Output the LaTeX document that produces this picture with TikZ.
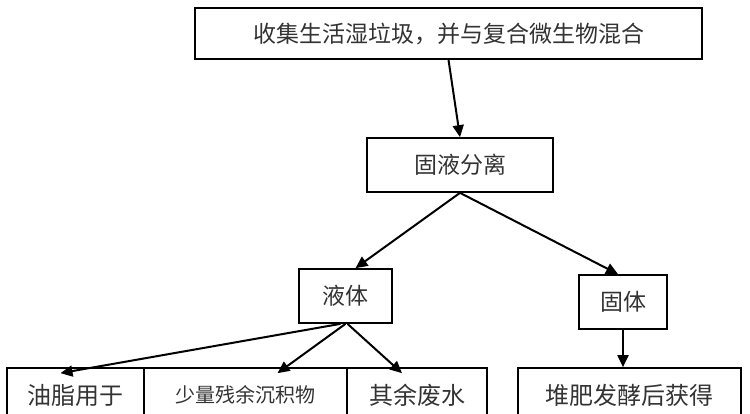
\documentclass[tikz,border=0pt]{standalone}
\usepackage{fontspec}
\setmainfont{Noto Sans CJK SC}
\usetikzlibrary{arrows.meta}

\definecolor{textcol}{rgb}{0.2,0.2,0.2}

\begin{document}
\begin{tikzpicture}[x=1pt, y=-1pt,
    box/.style={draw, line width=1.7pt, inner sep=0pt, text=textcol, font=\fontsize{23}{26}\selectfont},
    cellbox/.style={box, minimum height=54pt, font=\fontsize{24}{27}\selectfont},
    arrow/.style={-{Triangle[length=12pt, width=11pt]}, line width=2pt}
  ]

  \clip (0,0) rectangle (750,413);

  \coordinate (collectp) at (448.5, 33.5);
  \coordinate (separatep) at (460, 165);
  \coordinate (liquidp) at (345.5, 296);
  \coordinate (solidp) at (623, 302);

  \coordinate (oilp) at (75.5, 395);
  \coordinate (sedimentp) at (245.5, 395);
  \coordinate (waterp) at (417, 395);
  \coordinate (compostp) at (629.5, 395);

  % Top
  \node[box, minimum width=507pt, minimum height=51pt] (collect) at (collectp) {收集生活湿垃圾，并与复合微生物混合};
  \node[box, minimum width=186pt, minimum height=54pt] (separate) at (separatep) {固液分离};

  % Liquid / solid
  \node[box, minimum width=93pt, minimum height=54pt] (liquid) at (liquidp) {液体};
  \node[box, minimum width=88pt, minimum height=54pt] (solid) at (solidp) {固体};

  % Bottom row
  \node[cellbox, minimum width=137pt] (oil) at (oilp) {油脂用于};
  \node[cellbox, minimum width=203pt, font=\fontsize{20}{24}\selectfont] (sediment) at (sedimentp) {少量残余沉积物\hspace{22pt}};
  \node[cellbox, minimum width=140pt] (water) at (waterp) {其余废水};
  \node[cellbox, minimum width=223pt] (compost) at (compostp) {堆肥发酵后获得};

  \draw[arrow] (collect.south) -- (separate.north);
  \draw[arrow] (separate.south) -- ([xshift=10pt]liquid.north);
  \draw[arrow] (separate.south) -- ([xshift=-5pt]solid.north);

  \draw[arrow] ([xshift=-5pt]liquid.south) -- ([xshift=-15pt, yshift=-6pt]oil.north);
  \draw[arrow] (liquid.south) -- ([xshift=32pt, yshift=-6pt]sediment.north);
  \draw[arrow] ([xshift=2pt]liquid.south) -- ([xshift=-15pt, yshift=-6pt]water.north);
  \draw[arrow] (solid.south) -- (solid.south |- compost.north);

\end{tikzpicture}
\end{document}
